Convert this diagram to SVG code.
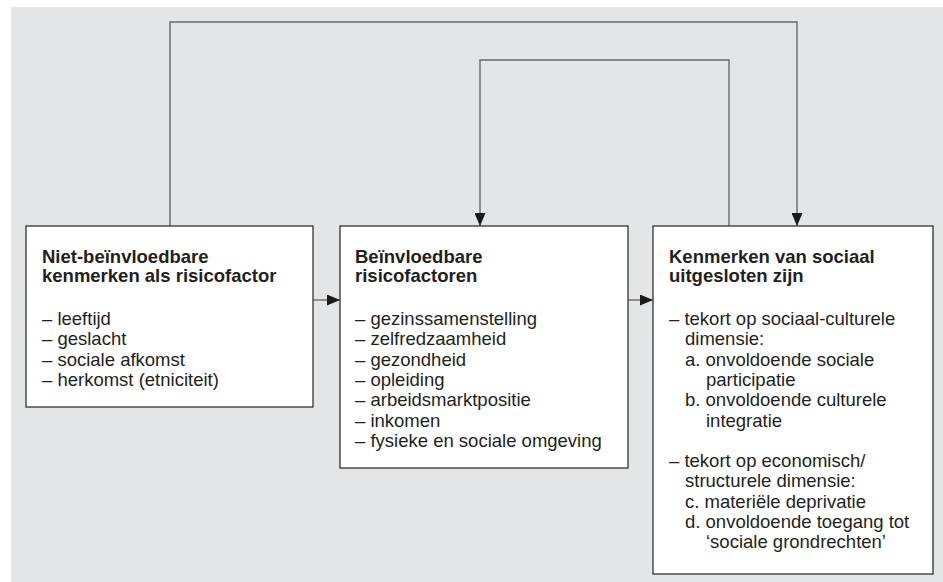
<svg xmlns="http://www.w3.org/2000/svg" width="943" height="582" viewBox="0 0 943 582">
<defs>
<style>
.box{fill:#fff;stroke:#333;stroke-width:1.3}
.conn{fill:none;stroke:#6a6a6a;stroke-width:1.4}
text{font-family:"Liberation Sans",Arial,sans-serif;font-size:18.5px;fill:#231f20}
.h{font-weight:bold}
</style>
<marker id="arr" markerWidth="13" markerHeight="11" refX="13" refY="5.5" orient="auto" markerUnits="userSpaceOnUse">
<path d="M0,0 L13,5.5 L0,11 Z" fill="#1a1a1a"/>
</marker>
</defs>
<rect x="11" y="7" width="932" height="575" fill="#e4e5e7"/>
<g id="connectors">
<path class="conn" d="M313,300 H340" marker-end="url(#arr)"/>
<path class="conn" d="M628,300 H653" marker-end="url(#arr)"/>
<path class="conn" d="M170,226 V22 H797 V226" marker-end="url(#arr)"/>
<path class="conn" d="M729,226 V60 H480 V226" marker-end="url(#arr)"/>
</g>
<g id="node1">
<rect class="box" x="26" y="226" width="287" height="181"/>
<text class="h" x="42" y="263">Niet-beïnvloedbare</text>
<text class="h" x="42" y="282">kenmerken als risicofactor</text>
<text x="42" y="325">– leeftijd</text>
<text x="42" y="345.3">– geslacht</text>
<text x="42" y="365.6">– sociale afkomst</text>
<text x="42" y="386">– herkomst (etniciteit)</text>
</g>
<g id="node2">
<rect class="box" x="340" y="226" width="288" height="242"/>
<text class="h" x="355" y="263">Beïnvloedbare</text>
<text class="h" x="355" y="282">risicofactoren</text>
<text x="355" y="325">– gezinssamenstelling</text>
<text x="355" y="345.3">– zelfredzaamheid</text>
<text x="355" y="365.6">– gezondheid</text>
<text x="355" y="386">– opleiding</text>
<text x="355" y="406.2">– arbeidsmarktpositie</text>
<text x="355" y="426.5">– inkomen</text>
<text x="355" y="446.8">– fysieke en sociale omgeving</text>
</g>
<g id="node3">
<rect class="box" x="653" y="226" width="280" height="348"/>
<text class="h" x="669" y="263">Kenmerken van sociaal</text>
<text class="h" x="669" y="282">uitgesloten zijn</text>
<text x="669" y="325">– tekort op sociaal-culturele</text>
<text x="685" y="345.3">dimensie:</text>
<text x="685" y="365.6">a. onvoldoende sociale</text>
<text x="706" y="386">participatie</text>
<text x="685" y="406.2">b. onvoldoende culturele</text>
<text x="706" y="426.5">integratie</text>
<text x="669" y="467">– tekort op economisch/</text>
<text x="685" y="487.4">structurele dimensie:</text>
<text x="685" y="507.7">c. materiële deprivatie</text>
<text x="685" y="528">d. onvoldoende toegang tot</text>
<text x="706" y="548.3">‘sociale grondrechten’</text>
</g>
</svg>
